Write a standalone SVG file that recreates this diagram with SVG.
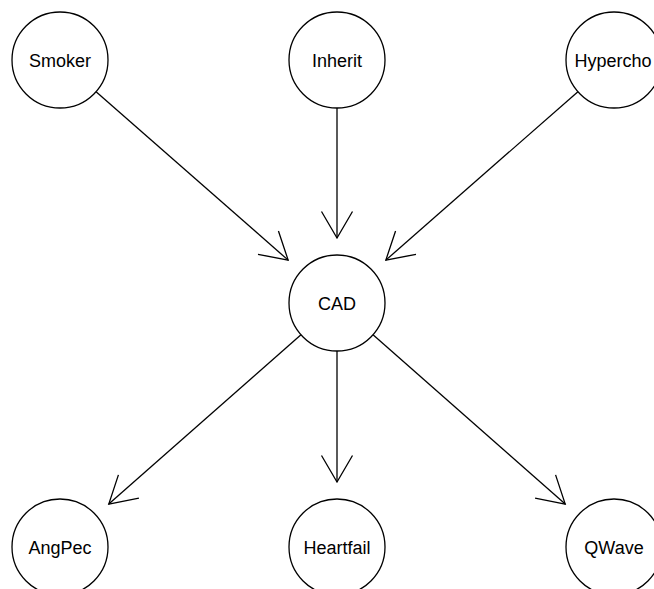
<svg xmlns="http://www.w3.org/2000/svg" width="654" height="589" viewBox="0 0 654 589">
<style>
.node circle{fill:#fff;stroke:#000;stroke-width:1.3}
.node text{font-family:"Liberation Sans",Arial,sans-serif;font-size:18px;fill:#000;text-anchor:middle}
.edge{stroke:#000;stroke-width:1.3;fill:none;marker-end:url(#arr)}
</style>
<defs>
<marker id="arr" markerUnits="userSpaceOnUse" orient="auto" refX="0" refY="0" markerWidth="40" markerHeight="40" overflow="visible">
<path d="M-26.5,-15.5 L0,0 L-26.5,15.5" fill="none" stroke="#000" stroke-width="1.3"/>
</marker>
</defs>
<rect width="654" height="589" fill="#fff"/>
<g id="connectors">
<line class="edge" x1="96.08" y1="91.66" x2="288.14" y2="260.13"/>
<line class="edge" x1="337" y1="108" x2="337" y2="238"/>
<line class="edge" x1="577.92" y1="91.66" x2="385.86" y2="260.13"/>
<line class="edge" x1="300.98" y1="334.73" x2="108.78" y2="504.04"/>
<line class="edge" x1="337" y1="351" x2="337" y2="482"/>
<line class="edge" x1="373.02" y1="334.73" x2="565.22" y2="504.04"/>
</g>
<g id="Smoker" class="node"><circle cx="60" cy="60" r="48"/><text x="60" y="66.5">Smoker</text></g>
<g id="Inherit" class="node"><circle cx="337" cy="60" r="48"/><text x="337" y="66.5">Inherit</text></g>
<g id="Hypercho" class="node"><circle cx="614" cy="60" r="48"/><text x="613" y="66.5">Hypercho</text></g>
<g id="CAD" class="node"><circle cx="337" cy="303" r="48"/><text x="337" y="309.5">CAD</text></g>
<g id="AngPec" class="node"><circle cx="60" cy="547" r="48"/><text x="60" y="553.5">AngPec</text></g>
<g id="Heartfail" class="node"><circle cx="337" cy="547" r="48"/><text x="337" y="553.5">Heartfail</text></g>
<g id="QWave" class="node"><circle cx="614" cy="547" r="48"/><text x="614" y="553.5">QWave</text></g>
</svg>
